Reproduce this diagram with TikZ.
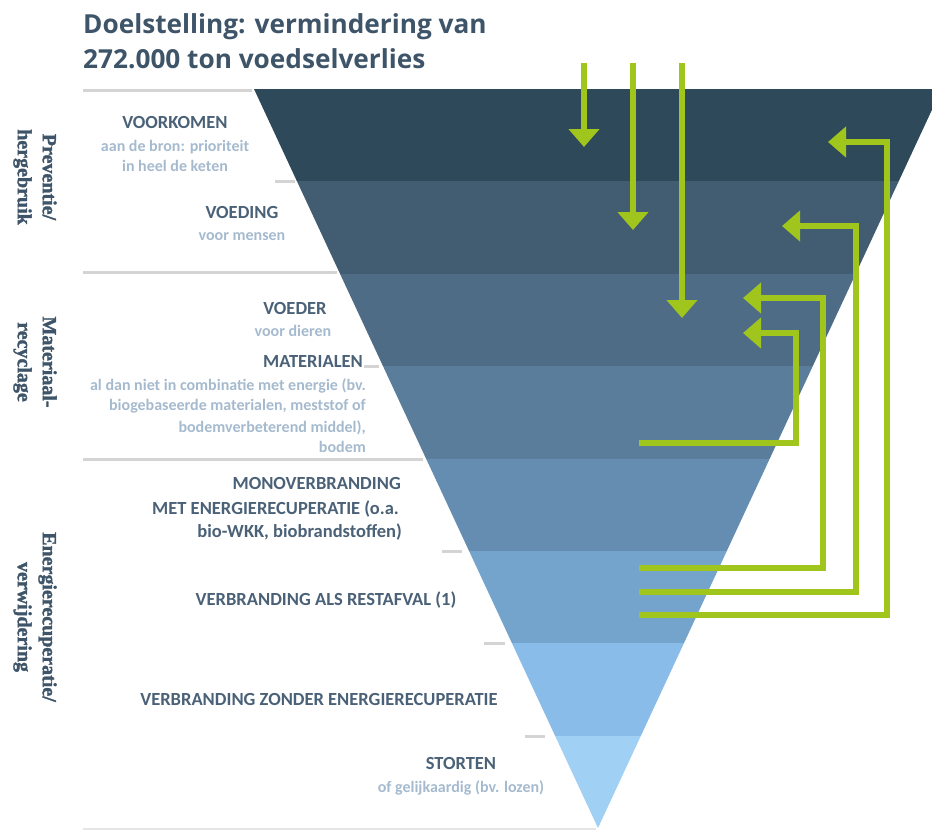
\documentclass[tikz,border=0pt]{standalone}
\usepackage{fontspec}
\setmainfont{Carlito}
\newfontfamily\titlefont{Open Sans}
\newfontfamily\slabfont[BoldFeatures={FakeBold=1.6}]{Liberation Serif}
\usetikzlibrary{arrows.meta}
\definecolor{bandA}{HTML}{2D495A}
\definecolor{bandB}{HTML}{425D72}
\definecolor{bandC}{HTML}{4F6C86}
\definecolor{bandD}{HTML}{5A7D9B}
\definecolor{bandE}{HTML}{658DB2}
\definecolor{bandF}{HTML}{74A3CC}
\definecolor{bandG}{HTML}{89BCE8}
\definecolor{bandH}{HTML}{A0D0F4}
\definecolor{titlec}{HTML}{3E5468}
\definecolor{labc}{HTML}{4A6177}
\definecolor{subc}{HTML}{A5BACE}
\definecolor{greenc}{HTML}{A0C51C}
\definecolor{rulec}{HTML}{D4D4D4}
\begin{document}
\begin{tikzpicture}[x=1pt,y=-1pt,
  titlestyle/.style={font=\titlefont\bfseries\fontsize{26.2}{31}\selectfont, text=titlec, inner sep=0pt, anchor=base west},
  lab/.style={font=\bfseries\fontsize{18.5}{22}\selectfont, text=labc, inner sep=0pt, anchor=base},
  labr/.style={lab, anchor=base east},
  sub/.style={font=\bfseries\fontsize{16}{20}\selectfont, text=subc, inner sep=0pt, anchor=base},
  subr/.style={sub, anchor=base east},
  side/.style={font=\slabfont\bfseries\fontsize{20}{25}\selectfont, text=titlec, inner sep=0pt, align=center, rotate=-90},
  rule/.style={draw=rulec, line width=3pt},
  garrow/.style={draw=greenc, line width=6pt, -{Triangle[width=30pt,length=18pt]}}
]
\useasboundingbox (0,0) rectangle (932,830);

% bands of the inverted triangle
\begin{scope}
  \clip (254,89) -- (932,89) -- (932,109.7) -- (598,828) -- cycle;
  \fill[bandA] (240,89) rectangle (940,181.4);
  \fill[bandB] (240,181.4) rectangle (940,273.75);
  \fill[bandC] (240,273.75) rectangle (940,366.1);
  \fill[bandD] (240,366.1) rectangle (940,458.5);
  \fill[bandE] (240,458.5) rectangle (940,550.9);
  \fill[bandF] (240,550.9) rectangle (940,643.25);
  \fill[bandG] (240,643.25) rectangle (940,735.6);
  \fill[bandH] (240,735.6) rectangle (940,830);
\end{scope}

% grey rules
\draw[rule] (83,90) -- (252,90);
\draw[rule] (83,272) -- (337,272);
\draw[rule] (83,459) -- (423,459);
\draw[rulec!60, line width=2pt] (83,828.5) -- (596,828.5);
\draw[rule] (275,181) -- (295,181);
\draw[rule] (364,366) -- (379,366);
\draw[rule] (442,551) -- (462,551);
\draw[rule] (484,643) -- (505,643);
\draw[rule] (525,736) -- (545,736);

% title
\node[titlestyle] (t1) at (83,33) {Doelstelling: vermindering van};
\node[titlestyle] (t2) at (83,68) {272.000 ton voedselverlies};

% side labels
\node[side] (s1) at (35,177) {Preventie/\\hergebruik};
\node[side] (s2) at (35,362) {Materiaal-\\recyclage};
\node[side] (s3) at (35,617) {Energierecuperatie/\\verwijdering};

% level labels
\node[lab] (l1) at (175,128) {VOORKOMEN};
\node[sub] (l1a) at (175,151) {aan de bron: prioriteit};
\node[sub] (l1b) at (175,171) {in heel de keten};
\node[lab] (l2) at (242,218) {VOEDING};
\node[sub] (l2a) at (242,240) {voor mensen};
\node[lab] (l3) at (295,314) {VOEDER};
\node[sub] (l3a) at (293,336) {voor dieren};
\node[labr] (l4) at (363,367) {MATERIALEN};
\node[subr] (l4a) at (366,390) {al dan niet in combinatie met energie (bv.};
\node[subr] (l4b) at (366,410) {biogebaseerde materialen, meststof of};
\node[subr] (l4c) at (366,432) {bodemverbeterend middel),};
\node[subr] (l4d) at (366,452) {bodem};
\node[labr] (l5) at (401,489) {MONOVERBRANDING};
\node[labr] (l5a) at (399,514) {MET ENERGIERECUPERATIE (o.a.};
\node[labr] (l5b) at (402,537) {bio-WKK, biobrandstoffen)};
\node[lab] (l6) at (326,605) {VERBRANDING ALS RESTAFVAL (1)};
\node[lab] (l7) at (319,705) {VERBRANDING ZONDER ENERGIERECUPERATIE};
\node[lab] (l8) at (461,769) {STORTEN};
\node[sub] (l8a) at (461,792) {of gelijkaardig (bv. lozen)};

% arrow anchor points
\coordinate (d1s) at (584,63);  \coordinate (d1e) at (584,147);
\coordinate (d2s) at (633,63);  \coordinate (d2e) at (633,230);
\coordinate (d3s) at (682,63);  \coordinate (d3e) at (682,318);

\coordinate (rAs) at (639,615); \coordinate (rAc) at (887,142); \coordinate (rAe) at (828,142);
\coordinate (rBs) at (639,592); \coordinate (rBc) at (856,226); \coordinate (rBe) at (782,226);
\coordinate (rCs) at (639,568); \coordinate (rCc) at (823,298); \coordinate (rCe) at (743,298);
\coordinate (rDs) at (639,443); \coordinate (rDc) at (796,333); \coordinate (rDe) at (743,333);

% downward arrows
\draw[garrow] (d1s) -- (d1e);
\draw[garrow] (d2s) -- (d2e);
\draw[garrow] (d3s) -- (d3e);

% return arrows
\draw[garrow] (rAs) -| (rAc) -- (rAe);
\draw[garrow] (rBs) -| (rBc) -- (rBe);
\draw[garrow] (rCs) -| (rCc) -- (rCe);
\draw[garrow] (rDs) -| (rDc) -- (rDe);
\end{tikzpicture}
\end{document}
